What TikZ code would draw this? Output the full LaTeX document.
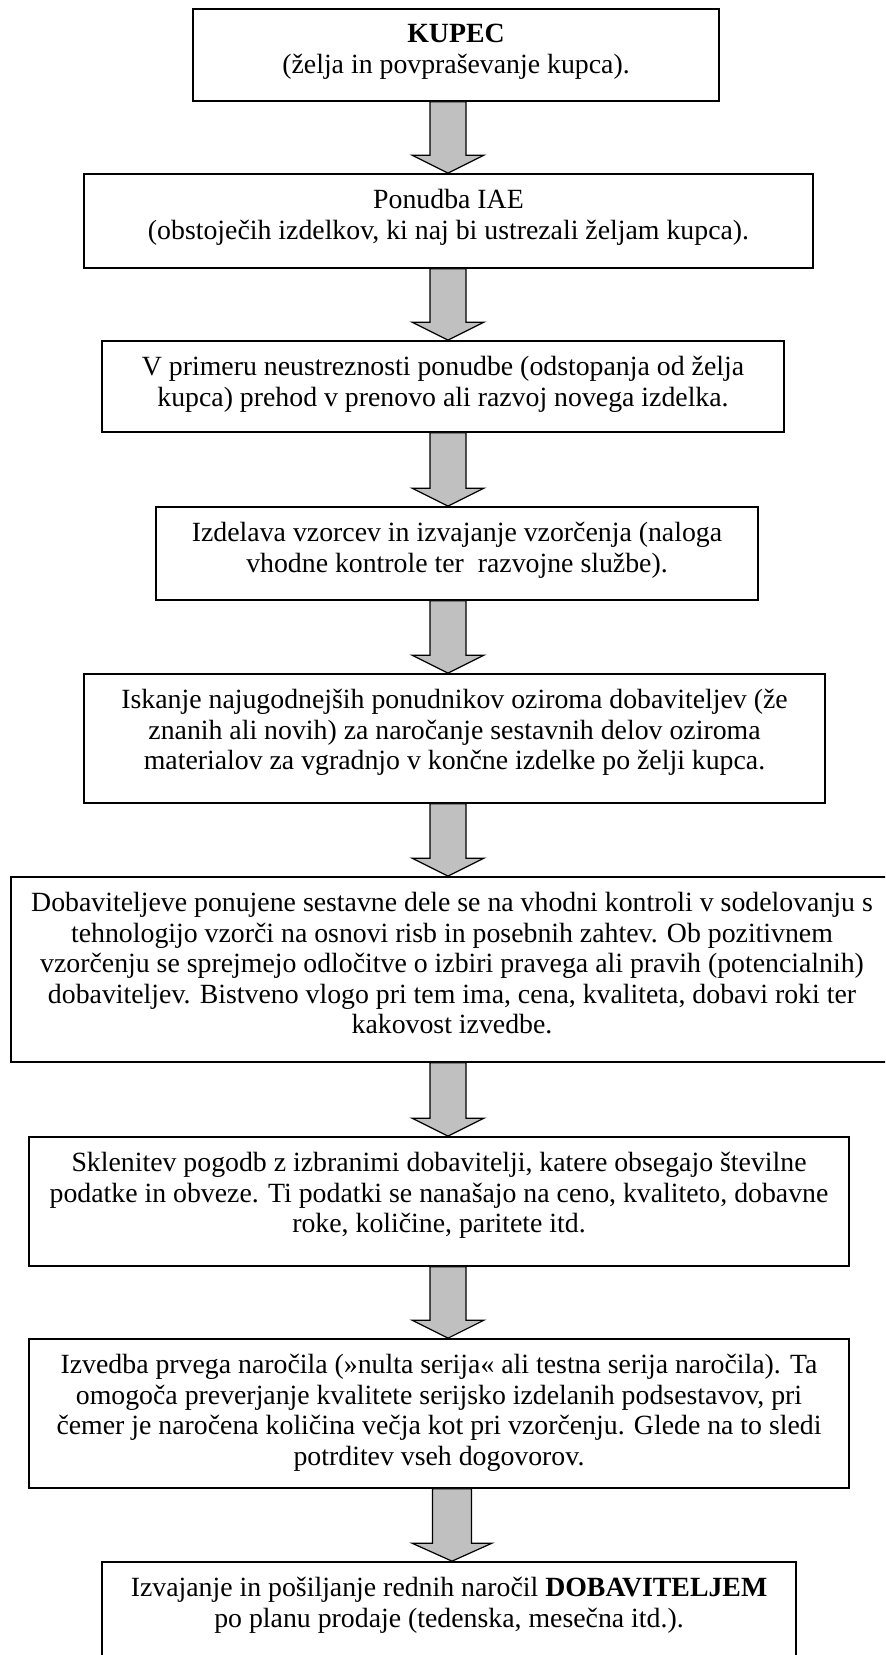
\documentclass[tikz,border=0pt]{standalone}
\usepackage{fontspec}
\setmainfont{Liberation Serif}
\usetikzlibrary{calc}
\definecolor{arrowgray}{RGB}{192,192,192}
\tikzset{
  box/.style={draw, line width=0.85pt, rectangle, inner sep=0pt},
  txt/.style={anchor=north, align=center, inner sep=0pt,
    font=\fontsize{13.9pt}{15.2pt}\selectfont},
  blockarrow/.style={draw, line width=0.6pt, fill=arrowgray, line join=miter},
}
% wide gray arrow from the bottom of one box to the top of the next,
% on a vertical axis given by a named coordinate
\newcommand\grayarrow[5]{%
  \path (#1.south -| #3) coordinate (ga-s) (#2.north -| #3) coordinate (ga-t);
  \draw[blockarrow] ($(ga-s)+(-#4,0)$) -- ($(ga-t)+(-#4,-18)$)
    -- ($(ga-t)+(-#5,-18)$) -- (ga-t) -- ($(ga-t)+(#5,-18)$)
    -- ($(ga-t)+(#4,-18)$) -- ($(ga-s)+(#4,0)$) -- cycle;
}
\begin{document}
\begin{tikzpicture}[x=0.5pt, y=-0.5pt]
\clip (0,0) rectangle (885,1655);
\fill[white] (0,0) rectangle (885,1655);
\coordinate (axis) at (448,0);
\coordinate (axis2) at (452,0);

% boxes
\node[box, minimum width=263pt, minimum height=46pt]   (b1) at (456,55) {};
\node[box, minimum width=364.5pt, minimum height=47pt] (b2) at (448.5,221) {};
\node[box, minimum width=341pt, minimum height=45.5pt] (b3) at (443,386.5) {};
\node[box, minimum width=301pt, minimum height=46.5pt] (b4) at (457,553.5) {};
\node[box, minimum width=370.5pt, minimum height=64.5pt] (b5) at (454.5,738.5) {};
\node[box, minimum width=447pt, minimum height=92.5pt] (b6) at (458,969.5) {};
\node[box, minimum width=410pt, minimum height=64.5pt] (b7) at (439,1201.5) {};
\node[box, minimum width=410pt, minimum height=74.5pt] (b8) at (439,1413.5) {};
\node[box, minimum width=347pt, minimum height=69pt]   (b9) at (449,1631) {};

% texts
\node[txt] (t1) at ($(b1.north)+(0,16)$) {\textbf{KUPEC}\\(želja in povpraševanje kupca).};
\node[txt] (t2) at ($(b2.north)+(0,16)$) {Ponudba IAE\\(obstoječih izdelkov, ki naj bi ustrezali željam kupca).};
\node[txt] (t3) at ($(b3.north)+(0,16)$) {V primeru neustreznosti ponudbe (odstopanja od želja\\kupca) prehod v prenovo ali razvoj novega izdelka.};
\node[txt] (t4) at ($(b4.north)+(0,16)$) {Izdelava vzorcev in izvajanje vzorčenja (naloga\\vhodne kontrole ter\ \ razvojne službe).};
\node[txt] (t5) at ($(b5.north)+(0,16)$) {Iskanje najugodnejših ponudnikov oziroma dobaviteljev (že\\znanih ali novih) za naročanje sestavnih delov oziroma\\materialov za vgradnjo v končne izdelke po želji kupca.};
\node[txt] (t6) at ($(b6.north)+(-6,16)$) {Dobaviteljeve ponujene sestavne dele se na vhodni kontroli v sodelovanju s\\tehnologijo vzorči na osnovi risb in posebnih zahtev. Ob pozitivnem\\vzorčenju se sprejmejo odločitve o izbiri pravega ali pravih (potencialnih)\\dobaviteljev. Bistveno vlogo pri tem ima, cena, kvaliteta, dobavi roki ter\\kakovost izvedbe.};
\node[txt] (t7) at ($(b7.north)+(0,16)$) {Sklenitev pogodb z izbranimi dobavitelji, katere obsegajo številne\\podatke in obveze. Ti podatki se nanašajo na ceno, kvaliteto, dobavne\\roke, količine, paritete itd.};
\node[txt] (t8) at ($(b8.north)+(0,16)$) {Izvedba prvega naročila (»nulta serija« ali testna serija naročila). Ta\\omogoča preverjanje kvalitete serijsko izdelanih podsestavov, pri\\čemer je naročena količina večja kot pri vzorčenju. Glede na to sledi\\potrditev vseh dogovorov.};
\node[txt] (t9) at ($(b9.north)+(0,16)$) {Izvajanje in pošiljanje rednih naročil \textbf{DOBAVITELJEM}\\po planu prodaje (tedenska, mesečna itd.).};

% connecting arrows
\grayarrow{b1}{b2}{axis}{18}{36}
\grayarrow{b2}{b3}{axis}{18}{36}
\grayarrow{b3}{b4}{axis}{18}{36}
\grayarrow{b4}{b5}{axis}{18}{36}
\grayarrow{b5}{b6}{axis}{18}{36}
\grayarrow{b6}{b7}{axis}{18}{36}
\grayarrow{b7}{b8}{axis}{18}{36}
\grayarrow{b8}{b9}{axis2}{19.5}{40}
\end{tikzpicture}
\end{document}
